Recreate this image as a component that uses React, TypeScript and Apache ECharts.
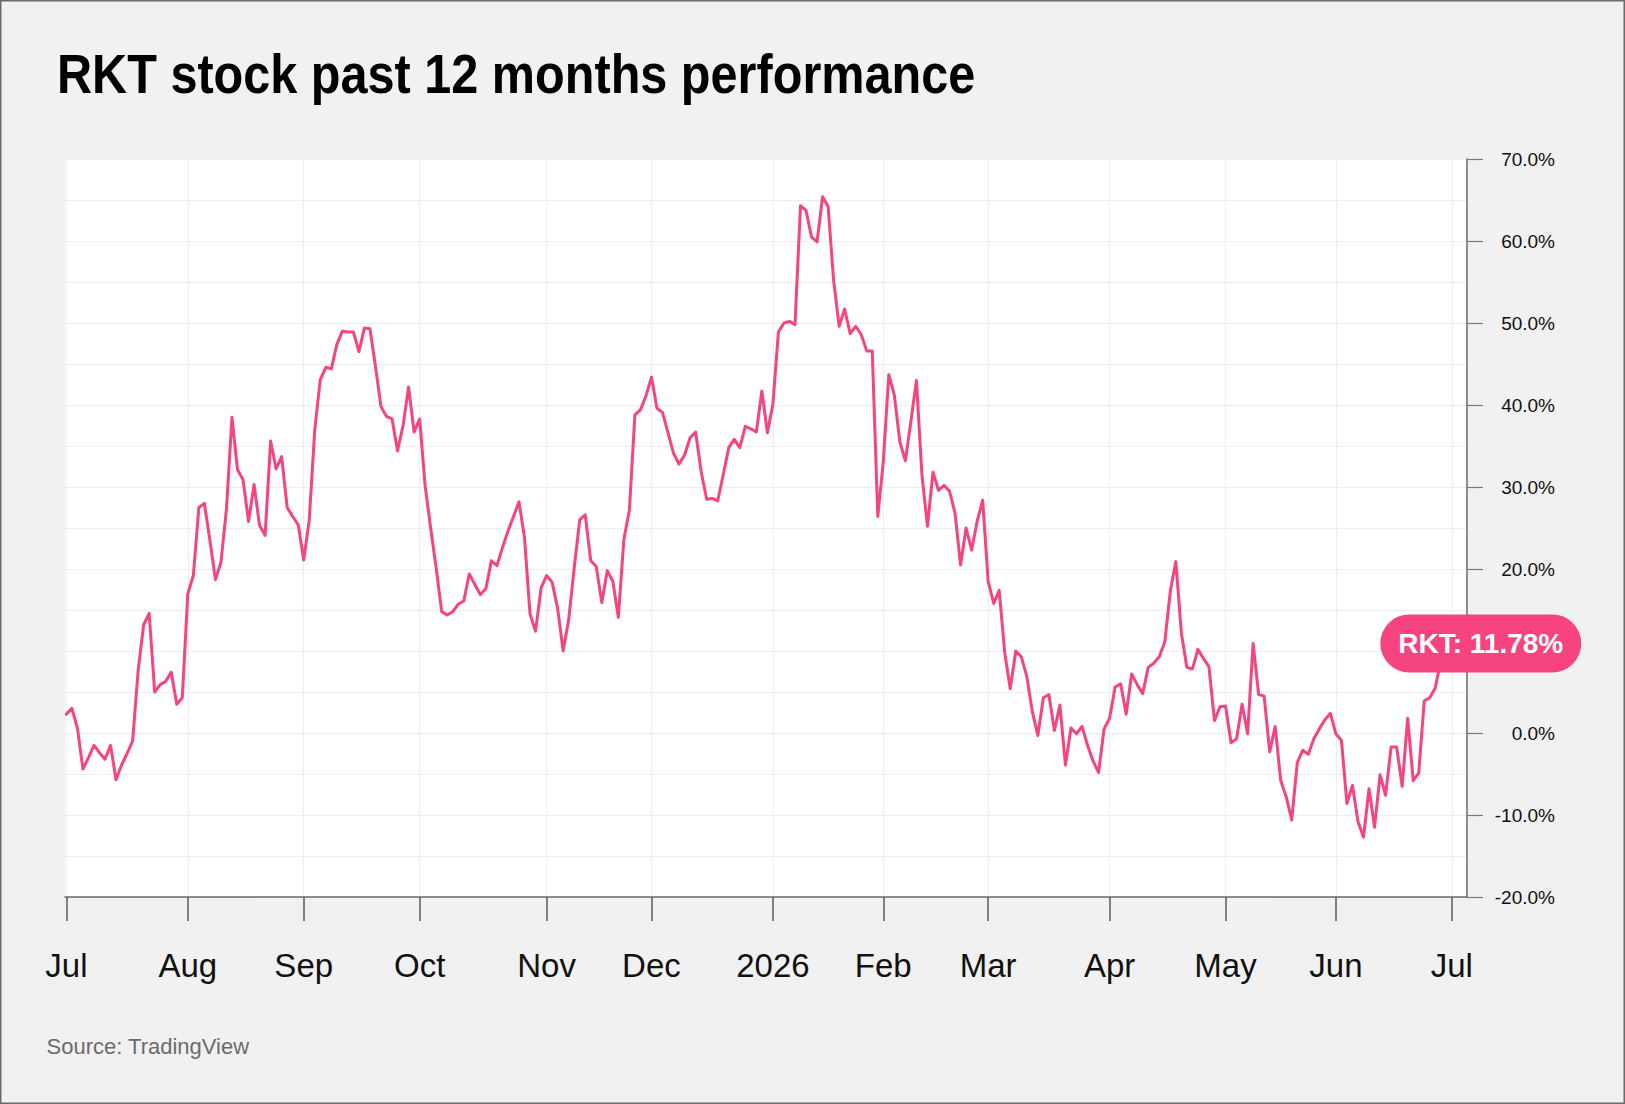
import React, { useEffect, useRef } from "react";
import * as echarts from "echarts";

// Trading-day index of the first session of each month (Jul 2025 .. Jul 2026)
const monthTickDays = [0, 22, 43, 64, 87, 106, 128, 148, 167, 189, 210, 230, 251];
const monthLabels = ["Jul", "Aug", "Sep", "Oct", "Nov", "Dec", "2026", "Feb", "Mar", "Apr", "May", "Jun", "Jul"];

const yMin = -20;
const yMax = 70;
const yStep = 10;

// RKT % performance, one value per trading day
const performance = [
  2.3, 3.0, 0.6, -4.4, -3.0, -1.5, -2.4, -3.2, -1.5, -5.7,
  -3.9, -2.5, -1.0, 7.6, 13.2, 14.6, 5.0, 5.9, 6.3, 7.4,
  3.5, 4.3, 17.0, 19.2, 27.5, 28.0, 23.5, 18.7, 20.8, 27.3,
  38.5, 32.1, 30.9, 25.8, 30.3, 25.3, 24.1, 35.6, 32.2, 33.7,
  27.5, 26.4, 25.4, 21.1, 26.0, 37.0, 43.1, 44.6, 44.4, 47.4,
  49.0, 48.9, 48.9, 46.5, 49.4, 49.3, 44.7, 39.8, 38.6, 38.3,
  34.4, 37.5, 42.2, 36.7, 38.3, 30.1, 25.0, 20.1, 14.8, 14.4,
  14.8, 15.7, 16.1, 19.4, 18.1, 16.9, 17.6, 21.0, 20.4, 22.6,
  24.6, 26.4, 28.2, 23.8, 14.5, 12.4, 17.7, 19.2, 18.4, 15.2,
  10.0, 13.8, 20.1, 26.0, 26.6, 21.0, 20.3, 15.9, 19.8, 18.5,
  14.1, 23.6, 27.2, 38.8, 39.4, 41.1, 43.4, 39.6, 39.1, 36.6,
  34.1, 32.8, 33.9, 36.0, 36.7, 31.9, 28.5, 28.6, 28.3, 31.5,
  34.8, 35.8, 34.8, 37.4, 37.1, 36.7, 41.7, 36.6, 40.1, 48.9,
  50.0, 50.2, 49.8, 64.3, 63.7, 60.5, 59.9, 65.4, 64.2, 55.2,
  49.6, 51.7, 48.7, 49.6, 48.6, 46.6, 46.6, 26.4, 33.1, 43.7,
  41.2, 35.5, 33.2, 38.0, 43.0, 31.5, 25.2, 31.8, 29.6, 30.2,
  29.5, 26.8, 20.5, 25.0, 22.3, 25.8, 28.4, 18.5, 15.8, 17.4,
  9.8, 5.4, 10.0, 9.3, 6.9, 2.6, -0.3, 4.3, 4.7, 0.3,
  3.4, -3.9, 0.6, -0.1, 0.8, -1.5, -3.4, -4.8, 0.5, 1.8,
  5.6, 6.0, 2.3, 7.2, 5.9, 4.8, 8.0, 8.5, 9.3, 11.1,
  17.3, 20.9, 12.2, 8.0, 7.8, 10.2, 9.1, 8.1, 1.5, 3.2,
  3.3, -1.2, -0.7, 3.5, -0.1, 10.9, 4.7, 4.5, -2.3, 0.8,
  -5.8, -7.8, -10.6, -3.6, -2.1, -2.6, -0.7, 0.5, 1.6, 2.4,
  -0.1, -0.9, -8.6, -6.4, -10.8, -12.7, -6.8, -11.5, -5.1, -7.6,
  -1.7, -1.7, -6.5, 1.8, -5.8, -4.9, 3.9, 4.3, 5.5, 8.8,
  11.78,
];

const ticker = "RKT";
const titleText = "RKT stock past 12 months performance";
const sourceText = "Source: TradingView";

const FONT = '"Liberation Sans", Arial, Helvetica, sans-serif';
const PINK = "#f5447f";

export default function App() {
  const ref = useRef<HTMLDivElement>(null);

  useEffect(() => {
    document.body.style.margin = "0";
    if (!ref.current) return;
    const chart = echarts.init(ref.current, undefined, { renderer: "svg" });

    const seriesData = performance.map((v, i) => [i, v]);
    const lastValue = performance[performance.length - 1];

    chart.setOption({
      animation: false,
      backgroundColor: "#f1f1f1",
      textStyle: { fontFamily: FONT },
      grid: {
        left: 65,
        right: 158,
        top: 159,
        bottom: 207,
        show: true,
        backgroundColor: "#ffffff",
        borderWidth: 0,
        containLabel: false,
      },
      xAxis: {
        type: "value",
        min: -0.25,
        max: 253.75,
        axisLine: { show: true, onZero: false, lineStyle: { color: "#6a6a6a", width: 1.5 } },
        axisTick: {
          show: true,
          customValues: monthTickDays,
          length: 24,
          lineStyle: { color: "#5a5a5a", width: 1.5 },
        },
        axisLabel: {
          customValues: monthTickDays,
          formatter: (v: number) => {
            const k = monthTickDays.indexOf(Math.round(v));
            return k >= 0 ? monthLabels[k] : "";
          },
          fontFamily: FONT,
          fontSize: 33,
          color: "#111111",
          margin: 52,
        },
        splitLine: { show: true, lineStyle: { color: "#eeeeee", width: 1 } },
      },
      yAxis: {
        type: "value",
        position: "right",
        min: yMin,
        max: yMax,
        interval: yStep,
        axisLine: { show: true, onZero: false, lineStyle: { color: "#6a6a6a", width: 1.5 } },
        axisTick: { show: true, length: 16, lineStyle: { color: "#7a7a7a", width: 1.2 } },
        axisLabel: {
          // the tick label hidden behind the last-value badge is not drawn
          formatter: (v: number) => (Math.abs(v - lastValue) < 4 ? "" : v.toFixed(1) + "%"),
          align: "right",
          margin: 88,
          fontFamily: FONT,
          fontSize: 19,
          color: "#111111",
        },
        splitLine: { show: true, lineStyle: { color: "#ededed", width: 1 } },
        minorTick: { show: false, splitNumber: 2 },
        minorSplitLine: { show: true, lineStyle: { color: "#ededed", width: 1 } },
      },
      graphic: [
        {
          type: "text",
          x: 57,
          y: 73.5,
          scaleX: 0.884,
          silent: true,
          style: {
            text: titleText,
            fontFamily: FONT,
            fontSize: 55,
            fontWeight: "bold",
            fill: "#000000",
            align: "left",
            verticalAlign: "middle",
          },
        },
        {
          type: "text",
          x: 46.5,
          y: 1046,
          silent: true,
          style: {
            text: sourceText,
            fontFamily: FONT,
            fontSize: 22,
            fill: "#6b6b6b",
            align: "left",
            verticalAlign: "middle",
          },
        },
        {
          type: "rect",
          silent: true,
          z: 100,
          shape: { x: 0.75, y: 0.75, width: 1623.5, height: 1102.5 },
          style: { fill: "none", stroke: "#6a6a6a", lineWidth: 1.5 },
        },
      ],
      series: [
        {
          type: "line",
          data: seriesData,
          showSymbol: false,
          symbol: "none",
          z: 3,
          lineStyle: { color: PINK, width: 3, join: "round", cap: "round" },
          itemStyle: { color: PINK },
          endLabel: {
            show: true,
            distance: 0,
            offset: [-66, 7],
            formatter: (p: any) => `${ticker}: ${Number(p.value[1]).toFixed(2)}%`,
            backgroundColor: PINK,
            borderRadius: 29,
            padding: [13, 18, 13, 18],
            fontFamily: FONT,
            fontSize: 28,
            lineHeight: 32,
            fontWeight: "bold",
            color: "#ffffff",
          },
        },
      ],
    });

    return () => chart.dispose();
  }, []);

  return <div ref={ref} style={{ width: 1625, height: 1104 }} />;
}
